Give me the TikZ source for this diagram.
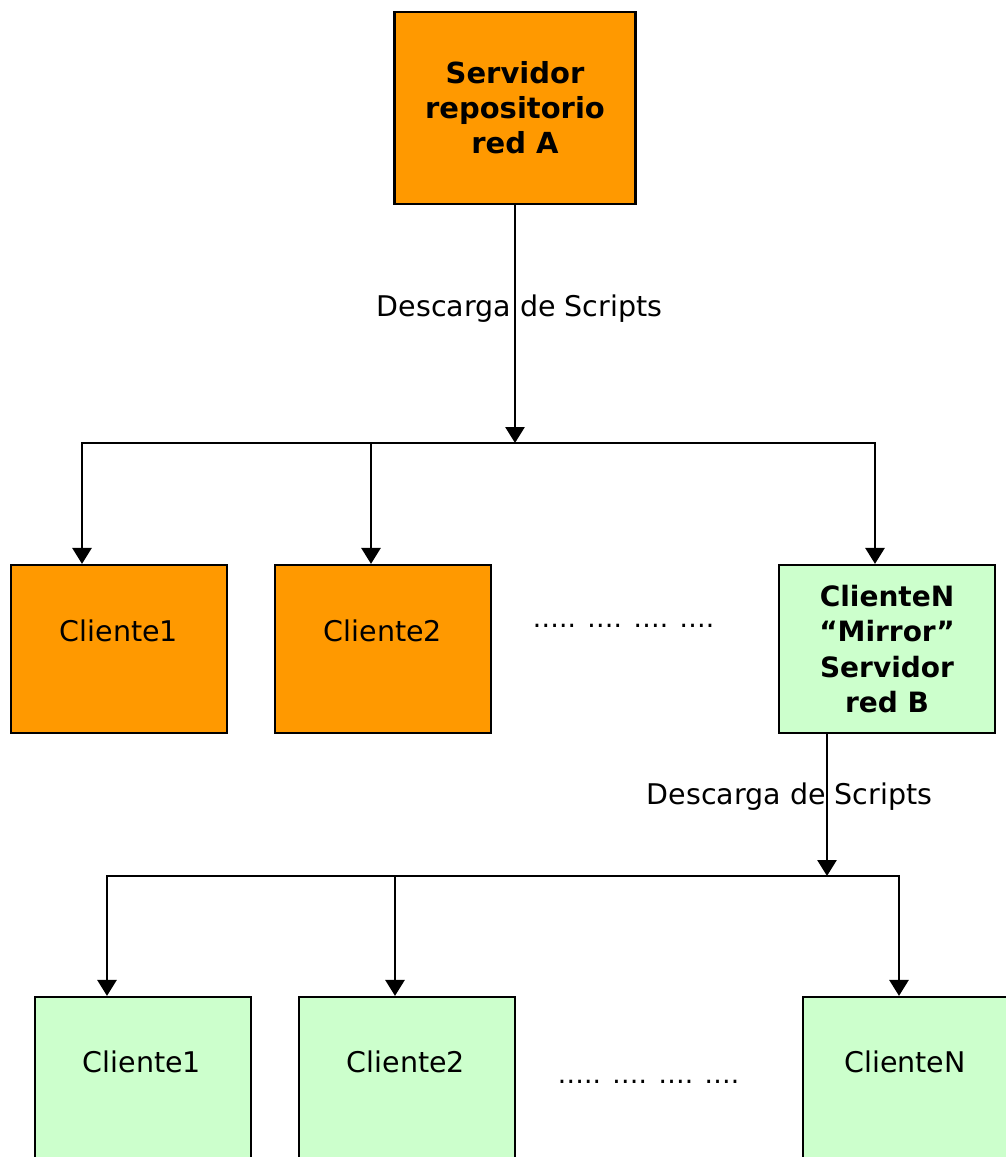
\documentclass[tikz,border=0pt]{standalone}
\usepackage{fontspec}
\setmainfont{DejaVu Sans}
\usetikzlibrary{arrows.meta}
\definecolor{orangebox}{HTML}{FF9900}
\definecolor{greenbox}{HTML}{CCFFCC}
\begin{document}
\begin{tikzpicture}[x=1pt,y=-1pt,
  box/.style={draw=black, line width=2.2pt, minimum width=216pt, minimum height=168pt, inner sep=0pt},
  obox/.style={box, fill=orangebox},
  gbox/.style={box, fill=greenbox},
  lbl/.style={font=\fontsize{28.5}{34}\selectfont, inner sep=0pt},
  dotlbl/.style={font=\fontsize{26.5}{30}\selectfont, inner sep=0pt, anchor=base},
  boldtxt/.style={align=center, font=\fontsize{28}{35.5}\selectfont\bfseries},
  conn/.style={line width=2.8pt, -{Triangle[width=19pt,length=16pt]}},
  bus/.style={line width=2pt, line cap=rect}]
\clip (0,0) rectangle (1006,1157);
\fill[white] (0,0) rectangle (1006,1157);

% top server
\node[obox, minimum width=241pt, minimum height=192pt, align=center,
      font=\fontsize{29}{35}\selectfont\bfseries] (srv) at (515,108)
      {Servidor\\repositorio\\red A};

% second row
\node[obox] (c1) at (119,649) {};
\node[obox] (c2) at (383,649) {};
\node[gbox, boldtxt] (mir) at (887,649) {ClienteN\\“Mirror”\\Servidor\\red B};
\node[lbl] (c1t) at (119,631) {Cliente1};
\node[lbl] (c2t) at (383,631) {Cliente2};
\node[dotlbl] (dots1) at (623.5,627) {….. …. …. ….};

% first distribution
\coordinate (hA) at (515,443);
\coordinate (a1) at (82,443);
\coordinate (a2) at (371,443);
\coordinate (a3) at (875,443);
\draw[conn] (srv.south) -- (hA);
\draw[bus] (a1) -- (a3);
\draw[conn] (a1) -- (a1 |- c1.north);
\draw[conn] (a2) -- (a2 |- c2.north);
\draw[conn] (a3) -- (a3 |- mir.north);
\node[lbl, anchor=base] (d1) at (519.5,316) {Descarga de Scripts};

% third row
\node[gbox] (g1) at (143,1081) {};
\node[gbox] (g2) at (407,1081) {};
\node[gbox] (g3) at (911,1081) {};
\node[lbl] (g1t) at (142,1062) {Cliente1};
\node[lbl] (g2t) at (406,1062) {Cliente2};
\node[lbl] (g3t) at (905,1062) {ClienteN};
\node[dotlbl] (dots2) at (648.5,1083) {….. …. …. ….};

% second distribution
\coordinate (hB) at (827,876);
\coordinate (b1) at (107,876);
\coordinate (b2) at (395,876);
\coordinate (b3) at (899,876);
\draw[conn] (mir.south -| hB) -- (hB);
\draw[bus] (b1) -- (b3);
\draw[conn] (b1) -- (b1 |- g1.north);
\draw[conn] (b2) -- (b2 |- g2.north);
\draw[conn] (b3) -- (b3 |- g3.north);
\node[lbl, anchor=base] (d2) at (789.5,804) {Descarga de Scripts};
\end{tikzpicture}
\end{document}
